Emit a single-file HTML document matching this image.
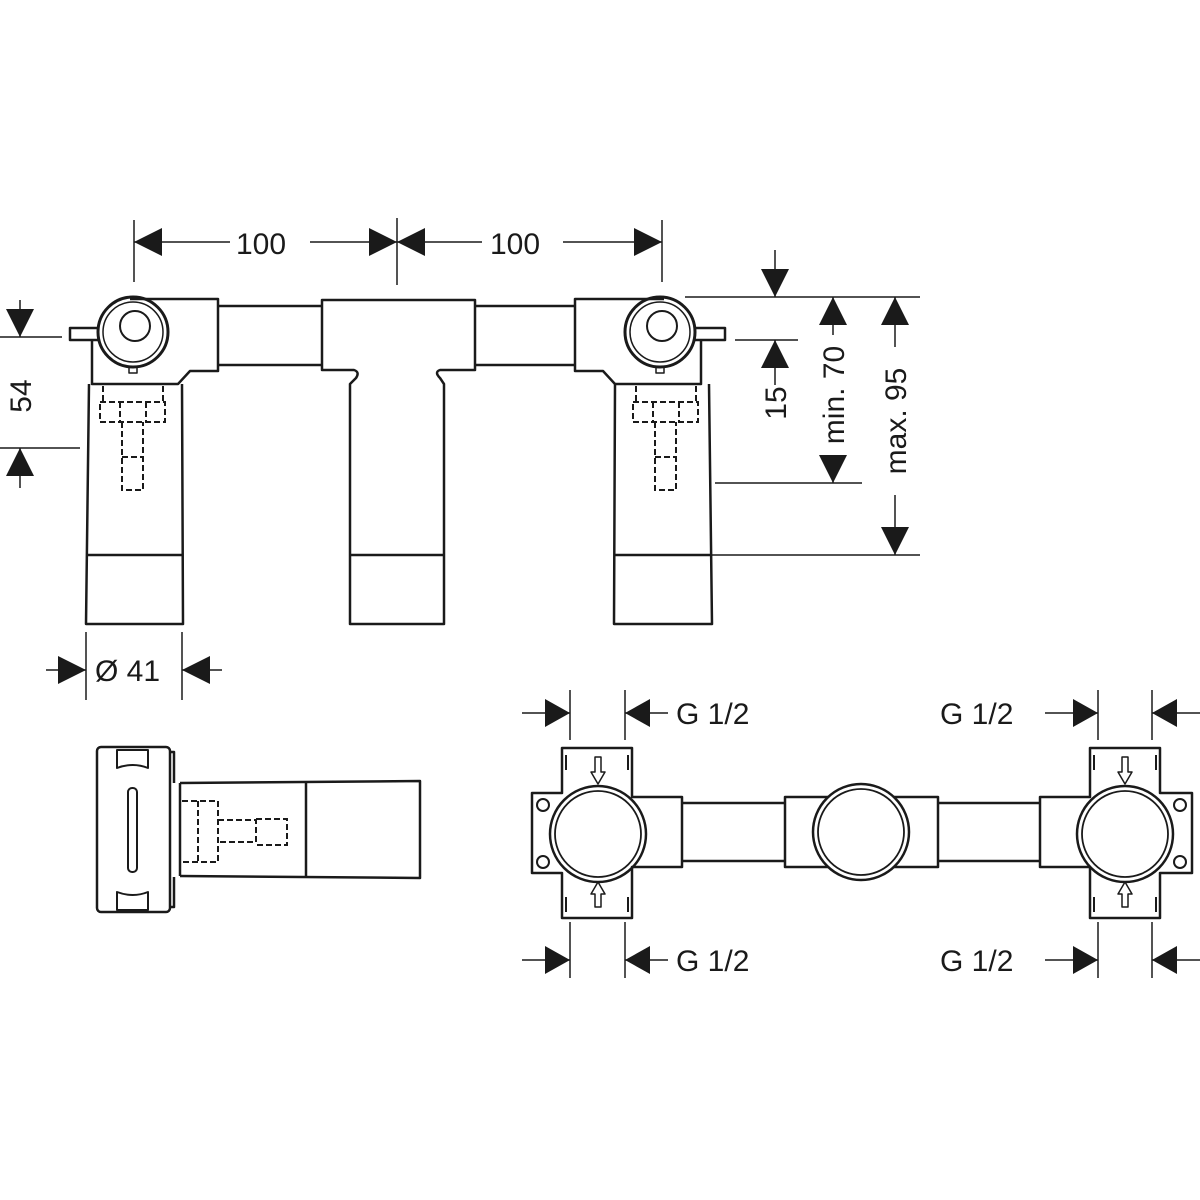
<!DOCTYPE html>
<html><head><style>
html,body{margin:0;padding:0;background:#fff;}
svg{display:block;}
text{font-family:"Liberation Sans",sans-serif;font-size:30px;fill:#1a1a1a;}
</style></head><body>
<svg width="1200" height="1200" viewBox="0 0 1200 1200" xmlns="http://www.w3.org/2000/svg">
<g fill="none" stroke="#1a1a1a" stroke-width="1.5">
<line x1="134" y1="220" x2="134" y2="282"/><line x1="397" y1="218" x2="397" y2="285"/><line x1="662" y1="220" x2="662" y2="282"/>
<line x1="134" y1="242" x2="230" y2="242"/><line x1="310" y1="242" x2="397" y2="242"/>
<line x1="397" y1="242" x2="482" y2="242"/><line x1="563" y1="242" x2="662" y2="242"/>
<line x1="0" y1="337" x2="62" y2="337"/><line x1="0" y1="448" x2="80" y2="448"/>
<line x1="20" y1="300" x2="20" y2="337"/><line x1="20" y1="448" x2="20" y2="488"/>
<line x1="685" y1="297" x2="920" y2="297"/><line x1="735" y1="340" x2="798" y2="340"/>
<line x1="715" y1="483" x2="862" y2="483"/><line x1="700" y1="555" x2="920" y2="555"/>
<line x1="775" y1="250" x2="775" y2="297"/><line x1="775" y1="340" x2="775" y2="385"/>
<line x1="833" y1="297" x2="833" y2="335"/><line x1="833" y1="455" x2="833" y2="483"/>
<line x1="895" y1="297" x2="895" y2="347"/><line x1="895" y1="495" x2="895" y2="555"/>
<line x1="86" y1="632" x2="86" y2="700"/><line x1="182" y1="632" x2="182" y2="700"/>
<line x1="46" y1="670" x2="86" y2="670"/><line x1="182" y1="670" x2="222" y2="670"/>
<line x1="570" y1="690" x2="570" y2="740"/><line x1="625" y1="690" x2="625" y2="740"/>
<line x1="1098" y1="690" x2="1098" y2="740"/><line x1="1152" y1="690" x2="1152" y2="740"/>
<line x1="570" y1="922" x2="570" y2="978"/><line x1="625" y1="922" x2="625" y2="978"/>
<line x1="1098" y1="922" x2="1098" y2="978"/><line x1="1152" y1="922" x2="1152" y2="978"/>
<line x1="522" y1="713" x2="570" y2="713"/><line x1="625" y1="713" x2="668" y2="713"/>
<line x1="1045" y1="713" x2="1098" y2="713"/><line x1="1152" y1="713" x2="1200" y2="713"/>
<line x1="522" y1="960" x2="570" y2="960"/><line x1="625" y1="960" x2="668" y2="960"/>
<line x1="1045" y1="960" x2="1098" y2="960"/><line x1="1152" y1="960" x2="1200" y2="960"/>
</g>
<g fill="#1a1a1a">
<polygon points="134,242 162,228 162,256"/><polygon points="397,242 369,228 369,256"/><polygon points="397,242 425,228 425,256"/><polygon points="662,242 634,228 634,256"/>
<polygon points="20,337 6,309 34,309"/><polygon points="20,448 6,476 34,476"/>
<polygon points="775,297 761,269 789,269"/><polygon points="775,340 761,368 789,368"/>
<polygon points="833,297 819,325 847,325"/><polygon points="833,483 819,455 847,455"/>
<polygon points="895,297 881,325 909,325"/><polygon points="895,555 881,527 909,527"/>
<polygon points="86,670 58,656 58,684"/><polygon points="182,670 210,656 210,684"/>
<polygon points="570,713 545,699 545,727"/><polygon points="625,713 650,699 650,727"/>
<polygon points="1098,713 1073,699 1073,727"/><polygon points="1152,713 1177,699 1177,727"/>
<polygon points="570,960 545,946 545,974"/><polygon points="625,960 650,946 650,974"/>
<polygon points="1098,960 1073,946 1073,974"/><polygon points="1152,960 1177,946 1177,974"/>
</g>
<text x="236" y="254">100</text><text x="490" y="254">100</text>
<text x="676" y="724">G 1/2</text><text x="676" y="971">G 1/2</text>
<text x="940" y="724">G 1/2</text><text x="940" y="971">G 1/2</text>
<text x="95" y="681">Ø 41</text>
<text transform="translate(31,396) rotate(-90)" text-anchor="middle">54</text>
<text transform="translate(786,403) rotate(-90)" text-anchor="middle">15</text>
<text transform="translate(844,395) rotate(-90)" text-anchor="middle">min. 70</text>
<text transform="translate(906,421) rotate(-90)" text-anchor="middle">max. 95</text>

<g fill="none" stroke="#1a1a1a" stroke-width="2.5" stroke-linejoin="round">
<path d="M130,299 H218 V371 H190 L178,384 H92 V340"/>
<path d="M89,384 L86,624 H183 L182,384"/><line x1="88" y1="555" x2="182" y2="555"/>
<path d="M98,328 H70 V340 H98"/>
<circle cx="133" cy="332" r="35" stroke-width="3"/><circle cx="133" cy="332" r="30" stroke-width="1.5"/><circle cx="135" cy="326" r="15" stroke-width="2"/>
<rect x="129" y="367" width="8" height="6" stroke-width="1.5"/>
<path d="M218,306 H322 M218,365 H322"/>
<path d="M322,300 H475 V370 H440 Q434,372 440,378 L444,384 V624 H350 V384 L356,378 Q360,372 354,370 H322 Z"/>
<line x1="350" y1="555" x2="444" y2="555"/>
<path d="M475,306 H575 M475,365 H575"/>
<path d="M664,299 H575 V371 H603 L615,384 H701 V340"/>
<path d="M615,384 L614,624 H712 L709,384"/><line x1="614" y1="555" x2="711" y2="555"/>
<path d="M695,328 H725 V340 H695"/>
<circle cx="660" cy="332" r="35" stroke-width="3"/><circle cx="660" cy="332" r="30" stroke-width="1.5"/><circle cx="662" cy="326" r="15" stroke-width="2"/>
<rect x="656" y="367" width="8" height="6" stroke-width="1.5"/>
</g>
<g fill="none" stroke="#1a1a1a" stroke-width="2" stroke-dasharray="6,3">
<path d="M103,386 V402 M163,386 V402 M100,402 H165 V422 H100 Z M120,402 V422 M146,402 V422 M122,422 V490 H143 V422 M122,457 H143"/>
<path d="M636,386 V402 M696,386 V402 M633,402 H698 V422 H633 Z M653,402 V422 M679,402 V422 M655,422 V490 H676 V422 M655,457 H676"/>
<path d="M182,801 H218 V862 H182 M198,801 V862 M218,820 H256 V842 H218 M256,819 H287 V845 H256"/>
</g>
<g fill="none" stroke="#1a1a1a" stroke-width="2.5" stroke-linejoin="round">
<rect x="97" y="747" width="73" height="165" rx="4"/>
<path d="M170,752 H174 V783 M170,907 H174 V877"/>
<path d="M180,783 L420,781 V878 L180,876"/><line x1="306" y1="782" x2="306" y2="877"/>
<line x1="180" y1="783" x2="180" y2="876"/>
<rect x="128" y="788" width="9" height="84" rx="4" stroke-width="2"/>
<path d="M117,750 H148 V768 Q133,762 117,768 Z" stroke-width="2"/>
<path d="M117,910 H148 V892 Q133,898 117,892 Z" stroke-width="2"/>
</g>
<g fill="none" stroke="#1a1a1a" stroke-width="2.5" stroke-linejoin="round">
<path d="M562,748 H632 V797 H682 V867 H632 V918 H562 V873 H532 V793 H562 Z"/>
<circle cx="598" cy="834" r="48"/><circle cx="598" cy="834" r="43" stroke-width="1.8"/>
<circle cx="543" cy="805" r="6" stroke-width="2"/><circle cx="543" cy="862" r="6" stroke-width="2"/>
<path d="M682,803 H785 M682,861 H785"/>
<rect x="785" y="797" width="153" height="70"/>
<circle cx="861" cy="832" r="48" fill="#fff"/><circle cx="861" cy="832" r="43" stroke-width="1.8"/>
<path d="M938,803 H1040 M938,861 H1040"/>
<path d="M1090,748 H1160 V793 H1192 V873 H1160 V918 H1090 V867 H1040 V797 H1090 Z"/>
<circle cx="1125" cy="834" r="48"/><circle cx="1125" cy="834" r="43" stroke-width="1.8"/>
<circle cx="1180" cy="805" r="6" stroke-width="2"/><circle cx="1180" cy="862" r="6" stroke-width="2"/>
<path d="M566,755 V770 M628,755 V770 M566,897 V912 M628,897 V912 M1094,755 V770 M1156,755 V770 M1094,897 V912 M1156,897 V912" stroke-width="2"/>
<path d="M595,757 V772 H591 L598,784 L605,772 H601 V757 Z M595,907 V894 H591 L598,882 L605,894 H601 V907 Z" stroke-width="1.5"/>
<path d="M1122,757 V772 H1118 L1125,784 L1132,772 H1128 V757 Z M1122,907 V894 H1118 L1125,882 L1132,894 H1128 V907 Z" stroke-width="1.5"/>
</g>
</svg>
</body></html>
